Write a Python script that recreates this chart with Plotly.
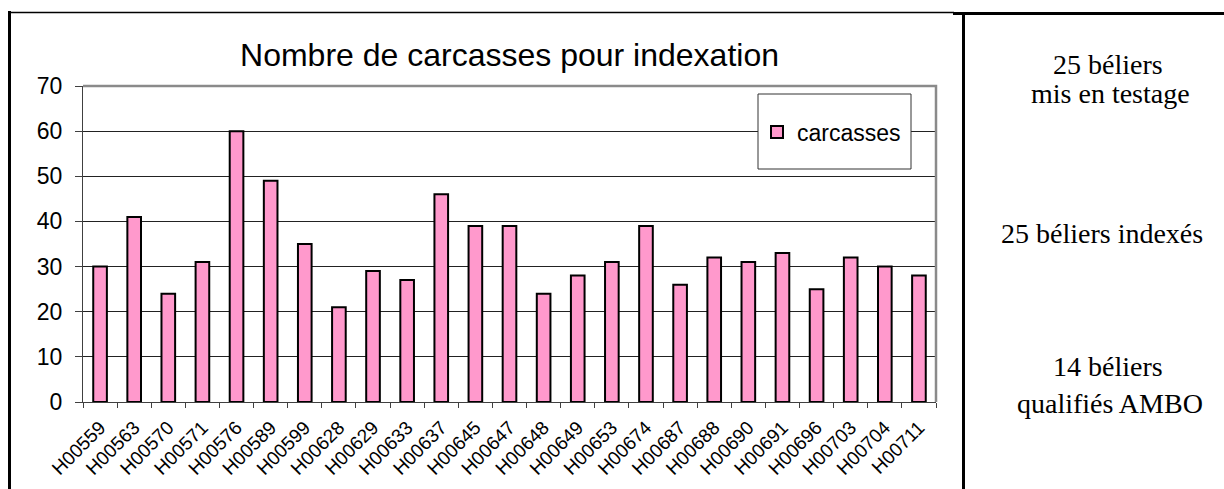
import plotly.graph_objects as go

# Rams and the number of carcasses available for indexing
rams = ["H00559", "H00563", "H00570", "H00571", "H00576", "H00589", "H00599",
        "H00628", "H00629", "H00633", "H00637", "H00645", "H00647", "H00648",
        "H00649", "H00653", "H00674", "H00687", "H00688", "H00690", "H00691",
        "H00696", "H00703", "H00704", "H00711"]
carcasses = [30, 41, 24, 31, 60, 49, 35, 21, 29, 27, 46, 39, 39, 24, 28, 31,
             39, 26, 32, 31, 33, 25, 32, 30, 28]

y_ticks = [0, 10, 20, 30, 40, 50, 60, 70]

side_notes = [
    ("25 béliers", 1108, 64),
    ("mis en testage", 1110, 93),
    ("25 béliers indexés", 1102, 233),
    ("14 béliers", 1108, 366),
    ("qualifiés AMBO", 1110, 403),
]

W, H = 1224, 489
L, R, T, B = 83, 936, 86, 402   # plot area in page pixels


def px(x):
    return (x - L) / (R - L)


def py(y):
    return (B - y) / (B - T)


fig = go.Figure()
fig.add_trace(go.Bar(
    x=rams, y=carcasses, name="carcasses",
    marker=dict(color="#FF99CC", line=dict(color="black", width=2)),
))

shapes = [
    # plot area frame (top and right edges)
    dict(type="path", xref="paper", yref="paper",
         path="M 0,1 L 1,1 L 1,0", line=dict(color="#8a8a8a", width=2.5),
         layer="above"),
    # legend frame
    dict(type="rect", xref="paper", yref="paper",
         x0=px(758), x1=px(911), y0=py(169), y1=py(94),
         fillcolor="white", line=dict(color="#333333", width=1), layer="above"),
    # table borders
    dict(type="line", xref="paper", yref="paper",
         x0=px(9.5), x1=px(9.5), y0=py(11), y1=py(H + 2),
         line=dict(color="black", width=3)),
    dict(type="line", xref="paper", yref="paper",
         x0=px(8), x1=px(954), y0=py(12.5), y1=py(12.5),
         line=dict(color="black", width=1.5)),
    dict(type="line", xref="paper", yref="paper",
         x0=px(953), x1=px(W + 2), y0=py(13.5), y1=py(13.5),
         line=dict(color="black", width=3)),
    dict(type="line", xref="paper", yref="paper",
         x0=px(963.5), x1=px(963.5), y0=py(12), y1=py(H + 2),
         line=dict(color="black", width=3)),
]

annotations = [
    dict(text=t, x=px(x), y=py(y), xref="paper", yref="paper",
         xanchor="center", yanchor="middle", showarrow=False,
         font=dict(family="Liberation Serif", size=28, color="black"))
    for t, x, y in side_notes
]

fig.update_layout(
    width=W, height=H,
    margin=dict(l=L, r=W - R, t=T, b=H - B, pad=0, autoexpand=False),
    paper_bgcolor="white", plot_bgcolor="white",
    font=dict(family="Liberation Sans", color="black"),
    title=dict(text="Nombre de carcasses pour indexation",
               x=px((L + R) / 2), xref="paper", xanchor="center",
               y=1 - 55 / H, yref="container", yanchor="middle",
               font=dict(family="Liberation Sans", size=32, color="black")),
    bargap=0.6,
    showlegend=True,
    legend=dict(x=px(757), y=py(132), xanchor="left", yanchor="middle",
                bgcolor="rgba(0,0,0,0)", borderwidth=0,
                font=dict(family="Liberation Sans", size=23, color="black")),
    xaxis=dict(type="category", showgrid=False, showline=True,
               linecolor="#404040", linewidth=1, automargin=False,
               ticks="outside", tickson="boundaries", ticklen=5,
               tickcolor="#404040", tickangle=-45, ticklabelstandoff=6,
               tickfont=dict(family="Liberation Sans", size=19)),
    yaxis=dict(range=[0, 70], tickvals=y_ticks, showgrid=True,
               gridcolor="#222222", gridwidth=1, zeroline=False,
               showline=True, linecolor="#404040", linewidth=1,
               automargin=False,
               ticks="outside", ticklen=7, tickcolor="#404040",
               ticklabelstandoff=8,
               tickfont=dict(family="Liberation Sans", size=23)),
    shapes=shapes,
    annotations=annotations,
)

fig.write_html("out.html")
